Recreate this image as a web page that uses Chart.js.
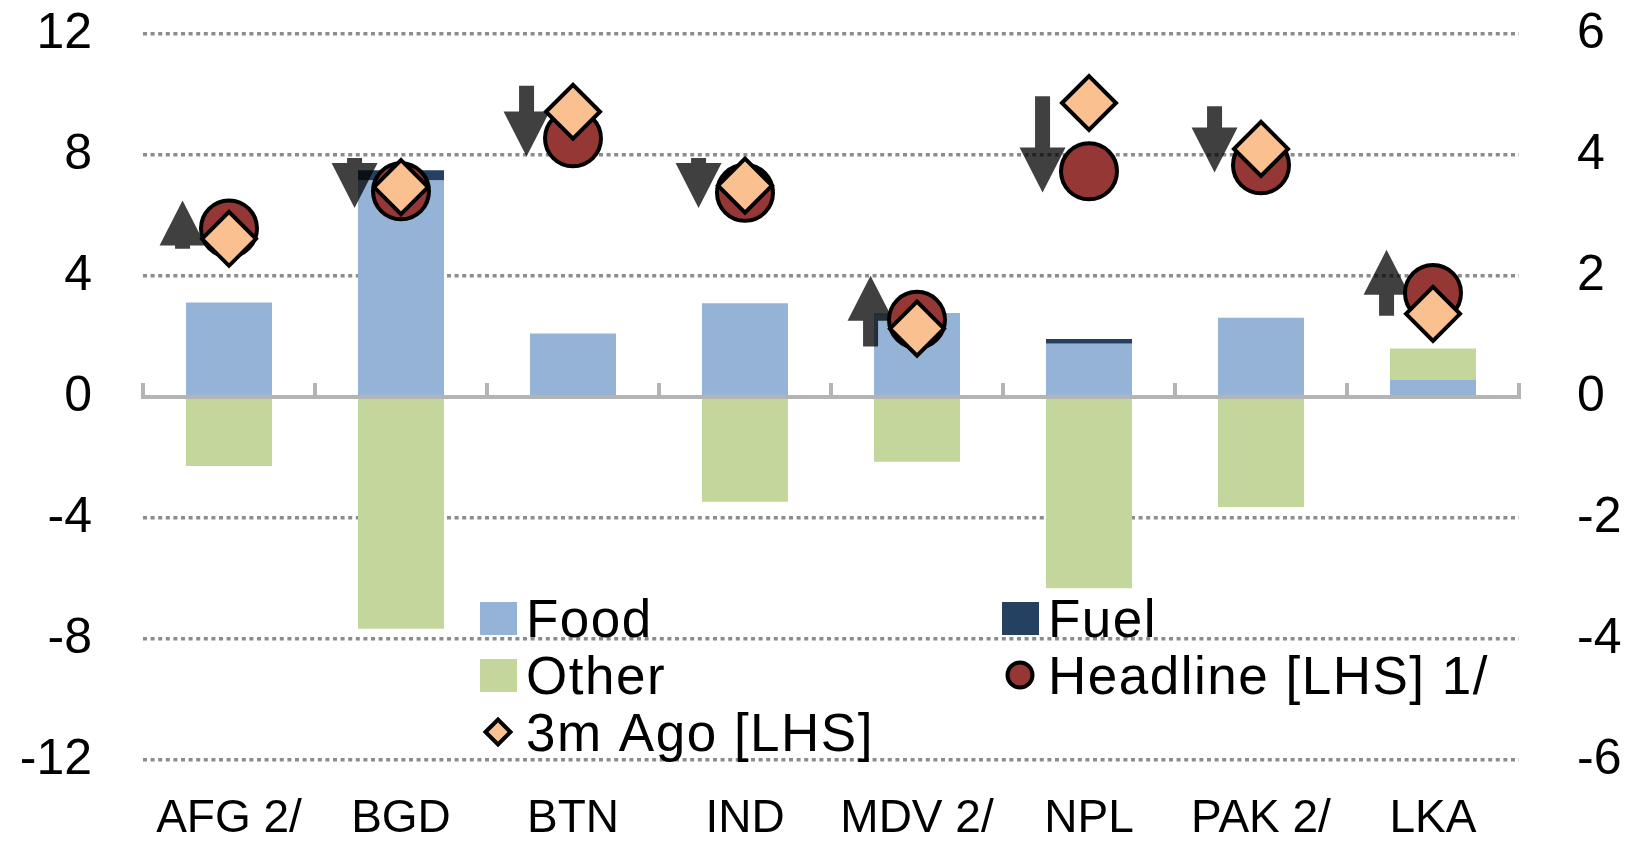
<!DOCTYPE html>
<html>
<head>
<meta charset="utf-8">
<title>Inflation contributions</title>
<script src="https://cdn.jsdelivr.net/npm/chart.js@4.4.1/dist/chart.umd.min.js"></script>
<style>
    body { margin: 0; background: #ffffff; }
    #wrap { width: 1630px; height: 842px; }
</style>
</head>
<body>
<div id="wrap"><canvas id="inflationChart" width="1630" height="842"></canvas></div>
<script>
// Categories and series (bars on RHS, markers on LHS)
const categories = ['AFG 2/', 'BGD', 'BTN', 'IND', 'MDV 2/', 'NPL', 'PAK 2/', 'LKA'];
const food = [1.56, 3.58, 1.05, 1.55, 1.39, 0.88, 1.31, 0.29];
const fuel = [0, 0.17, 0, 0, 0, 0.08, 0, 0];
const other = [-1.14, -3.83, 0, -1.73, -1.07, -3.16, -1.82, 0.51];
const headline = [5.57, 6.80, 8.55, 6.75, 2.55, 7.46, 7.66, 3.44];
const threeMonthsAgo = [5.23, 6.94, 9.43, 6.99, 2.26, 9.72, 8.20, 2.75];

// Direction arrows, start and end in LHS units
const arrowTail = [4.90, 7.90, 10.29, 7.90, 1.67, 9.94, 9.61, 2.69];
const arrowTip = [6.50, 6.25, 7.95, 6.25, 4.01, 6.76, 7.42, 4.87];

// Axis ranges
const leftRange = [-12, 12, 4];
const rightRange = [-6, 6, 2];

const FONT = '"Liberation Sans", Arial, sans-serif';
Chart.defaults.font.family = FONT;
Chart.defaults.color = '#000000';

// zero axis line with upward tick marks at category boundaries
const zeroAxisPlugin = {
    id: 'zeroAxis',
    afterDatasetsDraw(chart) {
        const ctx = chart.ctx;
        const x = chart.scales.x;
        const y0 = chart.scales.y.getPixelForValue(0);
        const step = x.width / categories.length;
        ctx.save();
        ctx.strokeStyle = '#b4b4b4';
        ctx.lineWidth = 4;
        ctx.beginPath();
        ctx.moveTo(x.left - 2, y0);
        ctx.lineTo(x.right + 2, y0);
        for (let i = 0; i <= categories.length; i++) {
            const px = x.left + i * step;
            ctx.moveTo(px, y0);
            ctx.lineTo(px, y0 - 14);
        }
        ctx.stroke();
        ctx.restore();
    }
};

// arrows drawn just before the headline markers
const arrowPlugin = {
    id: 'arrows',
    beforeDatasetDraw(chart, args) {
        if (args.index !== 3) return;
        const ctx = chart.ctx;
        const x = chart.scales.x;
        const y = chart.scales.y;
        const step = x.width / categories.length;
        const headW = 46, headH = 45, stemW = 15;
        ctx.save();
        ctx.fillStyle = 'rgba(0,0,0,0.75)';
        for (let i = 0; i < categories.length; i++) {
            const cx = x.getPixelForValue(i) - 0.27 * step;
            const yTail = y.getPixelForValue(arrowTail[i]);
            const yTip = y.getPixelForValue(arrowTip[i]);
            const dir = yTip > yTail ? 1 : -1;
            const yBase = yTip - dir * headH;
            ctx.beginPath();
            ctx.moveTo(cx - stemW / 2, yTail);
            ctx.lineTo(cx + stemW / 2, yTail);
            ctx.lineTo(cx + stemW / 2, yBase);
            ctx.lineTo(cx + headW / 2, yBase);
            ctx.lineTo(cx, yTip);
            ctx.lineTo(cx - headW / 2, yBase);
            ctx.lineTo(cx - stemW / 2, yBase);
            ctx.closePath();
            ctx.fill();
        }
        ctx.restore();
    }
};

// two-column legend inside the plot area
const legendPlugin = {
    id: 'gridLegend',
    afterDraw(chart) {
        const ctx = chart.ctx;
        const cols = [498, 1020];
        const rows = [618, 675, 732];
        const textGap = 28;
        ctx.save();
        ctx.font = '53px ' + FONT;
        ctx.letterSpacing = '1.5px';
        ctx.textBaseline = 'alphabetic';
        ctx.fillStyle = '#000000';
        chart.data.datasets.forEach((ds, i) => {
            const cx = cols[i % 2];
            const cy = rows[Math.floor(i / 2)];
            if (ds.type === 'bar') {
                ctx.fillStyle = ds.backgroundColor;
                ctx.fillRect(cx - 18, cy - 16, 37, 33);
            } else {
                ctx.fillStyle = ds.pointBackgroundColor;
                ctx.strokeStyle = '#000000';
                ctx.lineWidth = 4;
                ctx.beginPath();
                if (ds.pointStyle === 'circle') {
                    ctx.arc(cx, cy, 12.5, 0, Math.PI * 2);
                } else {
                    ctx.moveTo(cx - 12.5, cy);
                    ctx.lineTo(cx, cy - 12.5);
                    ctx.lineTo(cx + 12.5, cy);
                    ctx.lineTo(cx, cy + 12.5);
                    ctx.closePath();
                }
                ctx.fill();
                ctx.stroke();
            }
            ctx.fillStyle = '#000000';
            ctx.fillText(ds.label, cx + textGap, cy + 19);
        });
        ctx.restore();
    }
};

// keep tick label padding from pushing the plot area inwards
function fixWidth(w) {
    return function (scale) {
        scale.width = w;
        scale.paddingTop = 0;
        scale.paddingBottom = 0;
    };
}

const ctx = document.getElementById('inflationChart').getContext('2d');
const inflationChart = new Chart(ctx, {
    data: {
        labels: categories,
        datasets: [
            {
                type: 'bar',
                label: 'Food',
                data: food,
                backgroundColor: '#95b3d7',
                yAxisID: 'y1',
                stack: 'contrib',
                order: 3,
                categoryPercentage: 1,
                barPercentage: 0.5
            },
            {
                type: 'bar',
                label: 'Fuel',
                data: fuel,
                backgroundColor: '#254061',
                yAxisID: 'y1',
                stack: 'contrib',
                order: 3,
                categoryPercentage: 1,
                barPercentage: 0.5
            },
            {
                type: 'bar',
                label: 'Other',
                data: other,
                backgroundColor: '#c3d69b',
                yAxisID: 'y1',
                stack: 'contrib',
                order: 3,
                categoryPercentage: 1,
                barPercentage: 0.5
            },
            {
                type: 'line',
                label: 'Headline [LHS] 1/',
                data: headline,
                yAxisID: 'y',
                showLine: false,
                pointStyle: 'circle',
                pointRadius: 28,
                pointHoverRadius: 28,
                pointBackgroundColor: '#953735',
                pointBorderColor: '#000000',
                pointBorderWidth: 4,
                order: 1
            },
            {
                type: 'line',
                label: '3m Ago [LHS]',
                data: threeMonthsAgo,
                yAxisID: 'y',
                showLine: false,
                pointStyle: 'rectRot',
                pointRadius: 27,
                pointHoverRadius: 27,
                pointBackgroundColor: '#fac090',
                pointBorderColor: '#000000',
                pointBorderWidth: 4,
                order: 0
            }
        ]
    },
    options: {
        responsive: false,
        animation: false,
        layout: { padding: { top: 34, bottom: 0, left: 0, right: 0 } },
        plugins: {
            legend: { display: false },
            tooltip: { enabled: false }
        },
        scales: {
            x: {
                stacked: true,
                offset: true,
                grid: { display: false, drawTicks: false },
                border: { display: false },
                ticks: {
                    font: { size: 46 },
                    color: '#000000',
                    padding: 32,
                    autoSkip: false,
                    maxRotation: 0
                },
                afterFit(scale) { scale.height = 82; }
            },
            y: {
                position: 'left',
                min: leftRange[0],
                max: leftRange[1],
                grid: {
                    color: c => (c.tick && c.tick.value === 0) ? 'rgba(0,0,0,0)' : '#8c8c8c',
                    lineWidth: 3.5,
                    drawTicks: false
                },
                border: { display: false, dash: [4, 3.6] },
                ticks: {
                    stepSize: leftRange[2],
                    font: { size: 50 },
                    color: '#000000',
                    padding: 51
                },
                afterFit: fixWidth(143)
            },
            y1: {
                position: 'right',
                stacked: true,
                min: rightRange[0],
                max: rightRange[1],
                grid: { drawOnChartArea: false, drawTicks: false },
                border: { display: false },
                ticks: {
                    stepSize: rightRange[2],
                    font: { size: 50 },
                    color: '#000000',
                    padding: 58
                },
                afterFit: fixWidth(111)
            }
        }
    },
    plugins: [zeroAxisPlugin, arrowPlugin, legendPlugin]
});
</script>
</body>
</html>
